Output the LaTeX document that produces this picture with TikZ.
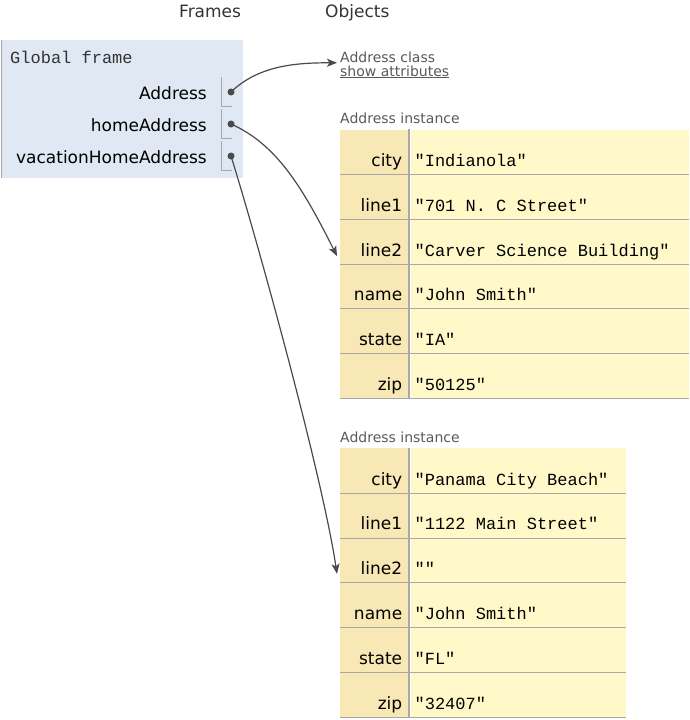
\documentclass[tikz,border=0pt]{standalone}
\usepackage{fontspec}
\setmainfont{DejaVu Sans}
\setmonofont{Liberation Mono}
\usetikzlibrary{arrows.meta}
\definecolor{framebg}{HTML}{E0E8F3}
\definecolor{keybg}{HTML}{F8E8B6}
\definecolor{valbg}{HTML}{FFF9C9}
\definecolor{rulegray}{HTML}{A8A8A8}
\definecolor{ink}{HTML}{4A4A4A}

\begin{document}
\begin{tikzpicture}[x=1pt,y=-1pt]
        \tikzstyle{head}=[anchor=base west, inner sep=0, text=black!80, font=\fontsize{17}{20}\selectfont]
        \tikzstyle{var}=[anchor=base east, inner sep=0, font=\fontsize{17}{20}\selectfont]
        \tikzstyle{ptr}=[circle, fill=ink, minimum size=7pt, inner sep=0]
        \tikzstyle{tag}=[anchor=base west, inner sep=0, text=black!65, font=\fontsize{14}{16}\selectfont]
        \tikzstyle{attr}=[anchor=north west, fill=keybg, minimum height=44.8pt, text width=56pt, inner xsep=6pt, inner ysep=0, text height=29pt, text depth=0pt, align=right, font=\fontsize{17}{20}\selectfont]
        \tikzstyle{val}=[anchor=north west, fill=valbg, minimum height=44.8pt, inner xsep=4pt, inner ysep=0, text height=29pt, text depth=0pt, font=\ttfamily\fontsize{17}{20}\selectfont, execute at begin node={\spaceskip=0pt\xspaceskip=0pt}]
        \tikzstyle{cellrule}=[rulegray, line width=1pt]
        \tikzstyle{link}=[ink, line width=1.2pt, -{Stealth[length=10pt,width=8pt,inset=2.5pt]}]
        \useasboundingbox (0,0) rectangle (690,720);
        % headings
        \node[head] (fr) at (179,17) {Frames};
        \node[head] (ob) at (325,17) {Objects};
        % global frame
        \fill[framebg] (2,40) rectangle (243,178);
        \draw[rulegray] (1.5,40) -- (1.5,178);
        \node[anchor=base west, inner sep=0, font=\ttfamily\fontsize{17}{20}\selectfont, text=black!80] (gf) at (10,63) {Global frame};
        \foreach \n/\y [count=\i] in {Address/92, homeAddress/124, vacationHomeAddress/156} {
          \node[var] (v\i) at (207,\y+7) {\n};
          \draw[cellrule] (221,\y-15) |- (232,\y+14);
          \node[ptr] (p\i) at (231,\y) {};
        }
        % class object
        \node[tag] (cls) at (340,62) {Address class};
        \node[tag] (shw) at (340,76) {\underline{show attributes}};
        % first instance
        \node[tag] (ia) at (340,123) {Address instance};
        \foreach \k/\v [count=\i] in {city/"Indianola", line1/"701 N. C Street", line2/"Carver Science Building", name/"John Smith", state/"IA", zip/"50125"} {
          \node[attr] (ak\i) at (340,129.3+44.8*\i-44.8) {\k};
          \node[val, text width=270pt] (av\i) at ([xshift=2pt]ak\i.north east) {\v};
        }
        \foreach \i in {1,...,6}
          \draw[cellrule] (ak\i.south west) -- (av\i.south east);
        \draw[rulegray, line width=2pt] ([xshift=1pt]ak1.north east) -- ([xshift=1pt]ak6.south east);
        % second instance
        \node[tag] (ib) at (340,442) {Address instance};
        \foreach \k/\v [count=\i] in {city/"Panama City Beach", line1/"1122 Main Street", line2/"", name/"John Smith", state/"FL", zip/"32407"} {
          \node[attr] (bk\i) at (340,448+44.8*\i-44.8) {\k};
          \node[val, text width=207pt] (bv\i) at ([xshift=2pt]bk\i.north east) {\v};
        }
        \foreach \i in {1,...,6}
          \draw[cellrule] (bk\i.south west) -- (bv\i.south east);
        \draw[rulegray, line width=2pt] ([xshift=1pt]bk1.north east) -- ([xshift=1pt]bk6.south east);
        % pointers
        \draw[link] (p1.center) .. controls +(28,-27) and +(-40,0) .. ([xshift=-3pt,yshift=-6pt]cls.west);
        \draw[link] (p2.center) .. controls +(45,20) and +(-35,-70) .. ([xshift=-3pt,yshift=8pt]ak3.south west);
        \draw[link] (p3.center) .. controls +(25,80) and +(-15,-100) .. ([xshift=-3pt,yshift=9pt]bk3.south west);
\end{tikzpicture}
\end{document}
